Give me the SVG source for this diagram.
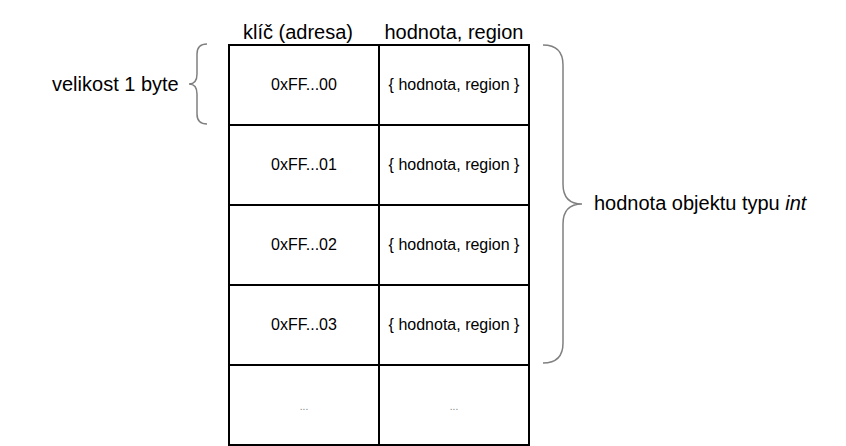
<svg xmlns="http://www.w3.org/2000/svg" width="846" height="446" viewBox="0 0 846 446">
<style>
.cell{fill:#fff;stroke:#000;stroke-width:2}
.t{font-family:"Liberation Sans",Arial,sans-serif;fill:#000}
.h{font-size:20px;text-anchor:middle}
.c{font-size:16px;text-anchor:middle}
.lbl{font-size:20px}
.br{fill:none;stroke:#808080;stroke-width:1.5}
.dots{font-size:10px;text-anchor:middle;fill:#808080}
</style>
<rect width="846" height="446" fill="#fff"/>
<g id="headers">
<text class="t h" x="298" y="39">klíč (adresa)</text>
<text class="t h" x="454" y="39">hodnota, region</text>
</g>
<g id="row0">
<rect class="cell" x="229" y="45" width="150" height="80"/>
<rect class="cell" x="379" y="45" width="150" height="80"/>
<text class="t c" x="304" y="90">0xFF...00</text>
<text class="t c" x="454" y="90">{ hodnota, region }</text>
</g>
<g id="row1">
<rect class="cell" x="229" y="125" width="150" height="80"/>
<rect class="cell" x="379" y="125" width="150" height="80"/>
<text class="t c" x="304" y="170">0xFF...01</text>
<text class="t c" x="454" y="170">{ hodnota, region }</text>
</g>
<g id="row2">
<rect class="cell" x="229" y="205" width="150" height="80"/>
<rect class="cell" x="379" y="205" width="150" height="80"/>
<text class="t c" x="304" y="250">0xFF...02</text>
<text class="t c" x="454" y="250">{ hodnota, region }</text>
</g>
<g id="row3">
<rect class="cell" x="229" y="285" width="150" height="80"/>
<rect class="cell" x="379" y="285" width="150" height="80"/>
<text class="t c" x="304" y="330">0xFF...03</text>
<text class="t c" x="454" y="330">{ hodnota, region }</text>
</g>
<g id="row4">
<rect class="cell" x="229" y="365" width="150" height="80"/>
<rect class="cell" x="379" y="365" width="150" height="80"/>
<text class="t dots" x="304" y="410">...</text>
<text class="t dots" x="454" y="410">...</text>
</g>
<g id="brace-left">
<path class="br" d="M207,44 Q197,44 197,54 L197,74 Q197,84 189,84 Q197,84 197,94 L197,114 Q197,124 207,124"/>
<text class="t lbl" x="52" y="91">velikost 1 byte</text>
</g>
<g id="brace-right">
<path class="br" d="M543,45 Q563,45 563,65 L563,184 Q563,204 582,204 Q563,204 563,224 L563,343 Q563,363 543,363"/>
<text class="t lbl" x="594" y="210">hodnota objektu typu <tspan font-style="italic">int</tspan></text>
</g>
</svg>
